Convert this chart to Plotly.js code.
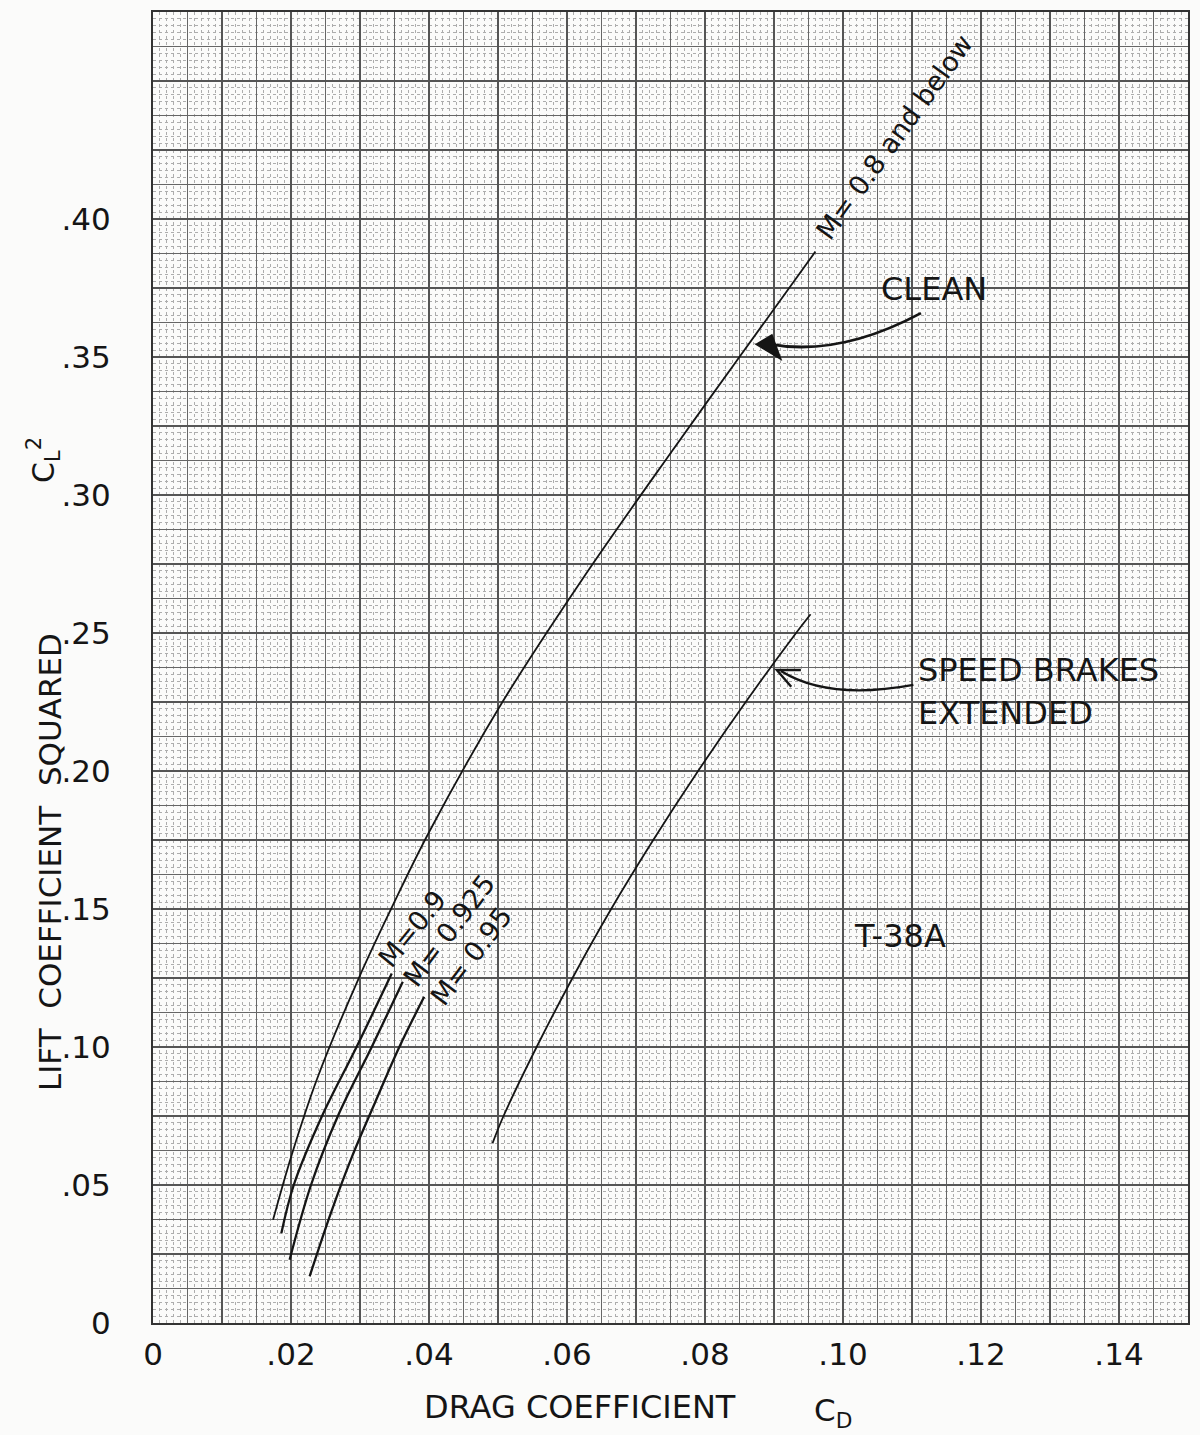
<!DOCTYPE html>
<html>
<head>
<meta charset="utf-8">
<script src="https://cdn.plot.ly/plotly-3.0.1.min.js"></script>
<style>
  html, body { margin: 0; padding: 0; background: #fbfbfa; }
  #chart { width: 1200px; height: 1435px; }
</style>
</head>
<body>
<div id="chart"></div>
<script>
// ---- data (CD = drag coefficient, CL2 = lift coefficient squared) ----
const cleanCD  = [0.0174, 0.0201, 0.0238, 0.0298, 0.0345, 0.0400, 0.0506, 0.0622, 0.0751, 0.0847, 0.0960];
const cleanCL2 = [0.0374, 0.0609, 0.0886, 0.1248, 0.1500, 0.1778, 0.2248, 0.2694, 0.3155, 0.3490, 0.3882];

const m090CD  = [0.0186, 0.0204, 0.0245, 0.0295, 0.0346];
const m090CL2 = [0.0325, 0.0500, 0.0750, 0.1000, 0.1266];

const m0925CD  = [0.0198, 0.0229, 0.0268, 0.0317, 0.0362];
const m0925CL2 = [0.0229, 0.0500, 0.0750, 0.1000, 0.1236];

const m095CD  = [0.0227, 0.0258, 0.0288, 0.0322, 0.0357, 0.0393];
const m095CL2 = [0.0169, 0.0400, 0.0600, 0.0800, 0.1000, 0.1182];

const brakesCD  = [0.0492, 0.0508, 0.0556, 0.0608, 0.0664, 0.0725, 0.0790, 0.0859, 0.0932, 0.0953];
const brakesCL2 = [0.0651, 0.0750, 0.1000, 0.1250, 0.1500, 0.1750, 0.2000, 0.2250, 0.2500, 0.2568];

const xTickVals = [0, 0.02, 0.04, 0.06, 0.08, 0.10, 0.12, 0.14];
const xTickText = ['0', '.02', '.04', '.06', '.08', '.10', '.12', '.14'];
const yTickVals = [0, 0.05, 0.10, 0.15, 0.20, 0.25, 0.30, 0.35, 0.40];
const yTickText = ['0', '.05', '.10', '.15', '.20', '.25', '.30', '.35', '.40'];

// ---- styling ----
const INK = '#151515';
const FONT = 'DejaVu Sans, Liberation Sans, Arial, sans-serif';
const BG = '#fbfbfa';

function curve(x, y, name, w) {
  return {
    type: 'scatter', mode: 'lines', x: x, y: y, name: name,
    line: { color: INK, width: w, shape: 'spline', smoothing: 1 },
    hoverinfo: 'x+y+name', showlegend: false, xaxis: 'x', yaxis: 'y'
  };
}

const traces = [
  curve(cleanCD, cleanCL2, 'Clean, M = 0.8 and below', 1.8),
  curve(m090CD, m090CL2, 'M = 0.9', 2.3),
  curve(m0925CD, m0925CL2, 'M = 0.925', 2.3),
  curve(m095CD, m095CL2, 'M = 0.95', 2.3),
  curve(brakesCD, brakesCL2, 'Speed brakes extended', 1.8),
  // invisible carrier for the heavy graph-paper grid axes
  { type: 'scatter', mode: 'markers', x: [0], y: [0], xaxis: 'x2', yaxis: 'y2',
    marker: { opacity: 0 }, hoverinfo: 'skip', showlegend: false }
];

const X_RANGE = [0, 0.15];
const Y_RANGE = [0, 0.475];

function txt(text, x, y, size, angle, extra) {
  return Object.assign({
    text: text, x: x, y: y, xref: 'x', yref: 'y', showarrow: false,
    textangle: angle || 0, xanchor: 'center', yanchor: 'middle',
    font: { family: FONT, size: size, color: INK }
  }, extra || {});
}

const annotations = [
  txt('M= 0.8 and below', 0.1074, 0.4295, 27, -54),
  txt('CLEAN', 0.1132, 0.3746, 32, 0),
  txt('SPEED BRAKES', 0.1106, 0.2366, 32, 0, { xanchor: 'left' }),
  txt('EXTENDED', 0.1106, 0.2211, 32, 0, { xanchor: 'left' }),
  txt('T-38A', 0.1082, 0.1402, 32, 0),
  txt('M=0.9', 0.0376, 0.1428, 27, -51),
  txt('M= 0.925', 0.0429, 0.1423, 27, -53),
  txt('M= 0.95', 0.0462, 0.1330, 27, -53),
  // axis titles
  { text: 'DRAG COEFFICIENT', x: 0.4126, y: -0.0641, xref: 'paper', yref: 'paper', showarrow: false,
    xanchor: 'center', yanchor: 'middle', font: { family: FONT, size: 32, color: INK } },
  { text: 'C<sub>D</sub>', x: 0.657, y: -0.0679, xref: 'paper', yref: 'paper', showarrow: false,
    xanchor: 'center', yanchor: 'middle', font: { family: FONT, size: 31, color: INK } },
  { text: 'LIFT  COEFFICIENT  SQUARED', x: -0.0995, y: 0.3516, xref: 'paper', yref: 'paper', showarrow: false,
    textangle: -90, xanchor: 'center', yanchor: 'middle', font: { family: FONT, size: 31, color: INK } },
  { text: 'C<sub>L</sub><sup>2</sup>', x: -0.1053, y: 0.6583, xref: 'paper', yref: 'paper', showarrow: false,
    textangle: -90, xanchor: 'center', yanchor: 'middle', font: { family: FONT, size: 30, color: INK } }
];

const shapes = [
  // curved arrow shafts
  { type: 'path', xref: 'x', yref: 'y', path: 'M 0.1113 0.3659 Q 0.0994 0.3500 0.0893 0.3547',
    line: { color: INK, width: 2.8 } },
  { type: 'path', xref: 'x', yref: 'y', path: 'M 0.1102 0.2312 Q 0.0979 0.2255 0.0910 0.2362',
    line: { color: INK, width: 2.4 } },
  // arrowheads
  { type: 'path', xref: 'x', yref: 'y', path: 'M 0.0874 0.3546 L 0.0897 0.3580 L 0.0910 0.3492 Z',
    fillcolor: INK, line: { color: INK, width: 1.5 } },
  { type: 'path', xref: 'x', yref: 'y', path: 'M 0.0939 0.2366 L 0.0904 0.2366 L 0.0925 0.2305',
    line: { color: INK, width: 2.4 } }
];

const layout = {
  width: 1200, height: 1435,
  // plot area 1035 x 1311 px: 69 px per 0.01 CD and per 0.025 CL2, so the grid falls on whole pixels
  margin: { l: 153, r: 12, t: 12, b: 112, pad: 0 },
  paper_bgcolor: BG, plot_bgcolor: BG,
  showlegend: false,
  xaxis: {
    range: X_RANGE, tickmode: 'array', tickvals: xTickVals, ticktext: xTickText,
    showgrid: false, zeroline: false, showline: true, mirror: true,
    linecolor: '#333', linewidth: 2, ticks: '', ticklabelstandoff: 3,
    tickfont: { family: FONT, size: 31, color: INK },
    minor: { tickmode: 'linear', tick0: 0, dtick: 0.001, showgrid: true,
             gridcolor: '#adadad', gridwidth: 1, griddash: 'dot', ticks: '' },
    anchor: 'y', fixedrange: true
  },
  yaxis: {
    range: Y_RANGE, tickmode: 'array', tickvals: yTickVals, ticktext: yTickText,
    showgrid: false, zeroline: false, showline: true, mirror: true,
    linecolor: '#333', linewidth: 2, ticks: '', ticklabelstandoff: 34,
    tickfont: { family: FONT, size: 31, color: INK },
    minor: { tickmode: 'linear', tick0: 0, dtick: 0.0025, showgrid: true,
             gridcolor: '#adadad', gridwidth: 1, griddash: 'dot', ticks: '' },
    anchor: 'x', fixedrange: true
  },
  xaxis2: {
    overlaying: 'x', anchor: 'y2', range: X_RANGE, tickmode: 'linear', tick0: 0, dtick: 0.01,
    showgrid: true, gridcolor: '#555555', gridwidth: 2, zeroline: false,
    showticklabels: false, ticks: '', showline: false,
    minor: { tickmode: 'linear', tick0: 0, dtick: 0.005, showgrid: true,
             gridcolor: '#666666', gridwidth: 1, ticks: '' },
    fixedrange: true
  },
  yaxis2: {
    overlaying: 'y', anchor: 'x2', side: 'left', range: Y_RANGE, tickmode: 'linear', tick0: 0, dtick: 0.025,
    showgrid: true, gridcolor: '#555555', gridwidth: 2, zeroline: false,
    showticklabels: false, ticks: '', showline: false,
    minor: { tickmode: 'linear', tick0: 0, dtick: 0.0125, showgrid: true,
             gridcolor: '#666666', gridwidth: 1, ticks: '' },
    fixedrange: true
  },
  annotations: annotations,
  shapes: shapes
};

Plotly.newPlot('chart', traces, layout, { displayModeBar: false, staticPlot: true });
</script>
</body>
</html>
